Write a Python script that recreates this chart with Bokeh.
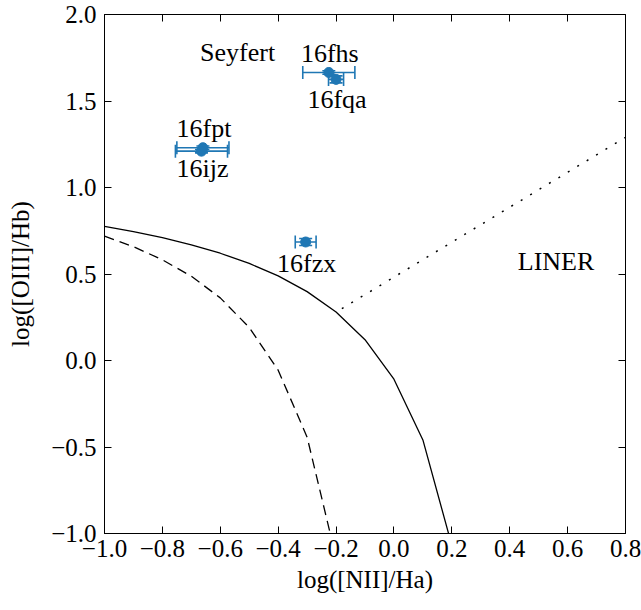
from bokeh.plotting import figure
from bokeh.models import (ColumnDataSource, Whisker, TeeHead, LinearAxis, FixedTicker,
                          Range1d, Label, CustomJSTickFormatter)
from bokeh.embed import file_html
from bokeh.resources import INLINE

# ---- data ----
names = ["16fhs", "16fqa", "16fpt", "16ijz", "16fzx"]
nii_ha = [-0.225, -0.200, -0.660, -0.665, -0.305]
oiii_hb = [1.665, 1.625, 1.230, 1.210, 0.685]
nii_err = [0.090, 0.026, 0.090, 0.090, 0.036]
oiii_err = [0.010, 0.020, 0.010, 0.010, 0.020]
label_dy = [19, -20, 19, -17, -22]   # label offset from point (px)

kewley_x = [-1.0, -0.9, -0.8, -0.7, -0.6, -0.5, -0.4, -0.3, -0.2, -0.1, 0.0, 0.1, 0.2]
kewley_y = [0.775, 0.745, 0.710, 0.669, 0.620, 0.561, 0.489, 0.398, 0.280, 0.120, -0.108, -0.459, -1.069]
kauff_x = [-1.0, -0.9, -0.8, -0.7, -0.6, -0.5, -0.4, -0.3, -0.2]
kauff_y = [0.719, 0.658, 0.582, 0.487, 0.362, 0.191, -0.056, -0.443, -1.140]
liner_x = [-0.18, 0.80]
liner_y = [0.30, 1.29]

x_ticks = [-1.0, -0.8, -0.6, -0.4, -0.2, 0.0, 0.2, 0.4, 0.6, 0.8]
y_ticks = [-1.0, -0.5, 0.0, 0.5, 1.0, 1.5, 2.0]

FONT = "Liberation Serif"
BLUE = "#1f77b4"

fmt = CustomJSTickFormatter(code="return tick.toFixed(1).replace('-', '\\u2212');")
blank = CustomJSTickFormatter(code="return '';")

p = figure(width=641, height=610, output_backend="svg", toolbar_location=None,
           x_range=Range1d(-1.0, 0.8), y_range=Range1d(-1.0, 2.0),
           min_border_left=104, min_border_right=16, min_border_top=14, min_border_bottom=77)
p.grid.visible = False
p.outline_line_color = "black"
p.outline_line_width = 1
p.background_fill_color = "white"
p.border_fill_color = "white"

p.xaxis.ticker = FixedTicker(ticks=x_ticks)
p.xaxis.axis_label = "log([NII]/Ha)"
p.yaxis.ticker = FixedTicker(ticks=y_ticks)
p.yaxis.axis_label = "log([OIII]/Hb)"

for axes in (p.xaxis, p.yaxis):
    axes.formatter = fmt
    axes.major_tick_in = 7
    axes.major_tick_out = 0
    axes.minor_tick_in = 0
    axes.minor_tick_out = 0
    axes.axis_line_color = "black"
    axes.major_tick_line_color = "black"
    axes.major_label_text_font = FONT
    axes.major_label_text_font_size = "25px"
    axes.major_label_text_color = "black"
    axes.axis_label_text_font = FONT
    axes.axis_label_text_font_size = "25px"
    axes.axis_label_text_font_style = "normal"
    axes.axis_label_text_color = "black"
p.xaxis.major_label_standoff = 6
p.xaxis.axis_label_standoff = 6
p.yaxis.major_label_standoff = 8
p.yaxis.axis_label_standoff = 14

# top & right ticks (no labels)
top = LinearAxis(ticker=FixedTicker(ticks=x_ticks), formatter=blank,
                 major_tick_in=7, major_tick_out=0, minor_tick_in=0, minor_tick_out=0,
                 major_label_standoff=0, axis_line_color=None)
right = LinearAxis(ticker=FixedTicker(ticks=y_ticks), formatter=blank,
                   major_tick_in=7, major_tick_out=0, minor_tick_in=0, minor_tick_out=0,
                   major_label_standoff=0, axis_line_color=None)
p.add_layout(top, "above")
p.add_layout(right, "right")

# demarcation lines
p.line(kewley_x, kewley_y, line_color="black", line_width=1.3)
p.line(kauff_x, kauff_y, line_color="black", line_width=1.3, line_dash="10 6")
p.line(liner_x, liner_y, line_color="black", line_width=1.5, line_dash="2 9")

# data with error bars
src = ColumnDataSource(dict(
    x=nii_ha, y=oiii_hb,
    xl=[a - b for a, b in zip(nii_ha, nii_err)], xu=[a + b for a, b in zip(nii_ha, nii_err)],
    yl=[a - b for a, b in zip(oiii_hb, oiii_err)], yu=[a + b for a, b in zip(oiii_hb, oiii_err)],
    name=names,
))
p.add_layout(Whisker(source=src, base="y", lower="xl", upper="xu", dimension="width",
                     line_color=BLUE, line_width=1.6,
                     lower_head=TeeHead(size=13, line_color=BLUE, line_width=1.6),
                     upper_head=TeeHead(size=13, line_color=BLUE, line_width=1.6)))
p.add_layout(Whisker(source=src, base="x", lower="yl", upper="yu", dimension="height",
                     line_color=BLUE, line_width=1.6,
                     lower_head=TeeHead(size=13, line_color=BLUE, line_width=1.6),
                     upper_head=TeeHead(size=13, line_color=BLUE, line_width=1.6)))
p.scatter("x", "y", source=src, size=10, fill_color=BLUE, line_color=BLUE)

for n, x, y, dy in zip(names, nii_ha, oiii_hb, label_dy):
    p.add_layout(Label(x=x, y=y, text=n, text_font=FONT, text_font_size="26px",
                       text_color="black", text_align="center", text_baseline="middle",
                       y_offset=dy, x_offset=1))

p.add_layout(Label(x=-0.54, y=1.78, text="Seyfert", text_font=FONT, text_font_size="26px",
                   text_align="center", text_baseline="middle", text_color="black"))
p.add_layout(Label(x=0.56, y=0.57, text="LINER", text_font=FONT, text_font_size="26px",
                   text_align="center", text_baseline="middle", text_color="black"))

open("out.html", "w").write(file_html(p, INLINE))
